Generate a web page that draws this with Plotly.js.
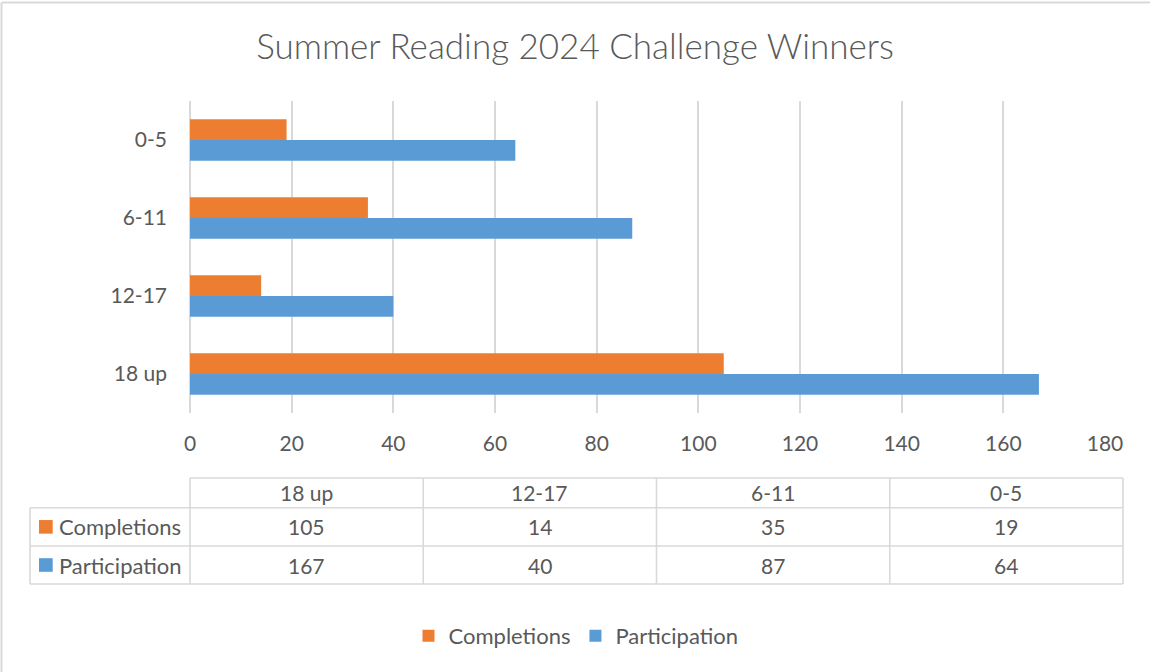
<!DOCTYPE html>
<html>
<head>
<meta charset="utf-8">
<script src="https://cdn.plot.ly/plotly-3.0.1.min.js"></script>
<style>
  html, body { margin: 0; padding: 0; background: #ffffff; }
  #chart { width: 1150px; height: 672px; }
</style>
</head>
<body>
<div id="chart"></div>
<script>
// ---- data ----
const categories = ['18 up', '12-17', '6-11', '0-5'];
const completions = [105, 14, 35, 19];
const participation = [167, 40, 87, 64];
const seriesNames = ['Completions', 'Participation'];
const chartTitle = 'Summer Reading 2024 Challenge Winners';

// ---- styling ----
const W = 1150, H = 672;
const M = { l: 190, r: 45, t: 101, b: 259 };
const PW = W - M.l - M.r, PH = H - M.t - M.b;
const ORANGE = '#ED7D31', BLUE = '#5B9BD5', TXT = '#595959', GRID = '#D9D9D9';
const FONT = 'Lato, "Open Sans", sans-serif';
const FS = 21;
const FS_NAME = 22;

const px = x => (x - M.l) / PW;
const py = y => (H - M.b - y) / PH;

const shapes = [];
const annotations = [];
function line(x0, y0, x1, y1, w) {
  shapes.push({ type: 'line', xref: 'paper', yref: 'paper',
    x0: px(x0), y0: py(y0), x1: px(x1), y1: py(y1),
    line: { color: GRID, width: w || 1.6 } });
}

// outer frame (top and left edges visible)
line(1.5, 2.5, W + 5, 2.5, 2);
line(1.5, 2.5, 1.5, H + 5, 2);

// data table geometry
const tLeft = 30, tData = 190, tRight = 1123;
const rows = [478, 507.7, 546, 584];
const nCols = categories.length;
const colW = (tRight - tData) / nCols;
line(tData, rows[0], tRight, rows[0]);
for (let r = 1; r < rows.length; r++) line(tLeft, rows[r], tRight, rows[r]);
line(tLeft, rows[1], tLeft, rows[3]);
for (let c = 0; c <= nCols; c++) line(tData + c * colW, rows[0], tData + c * colW, rows[3]);

function text(x, y, t, anchor, size) {
  annotations.push({ xref: 'paper', yref: 'paper', x: px(x), y: py(y),
    text: t, showarrow: false, xanchor: anchor || 'center', yanchor: 'middle',
    font: { family: FONT, size: size || FS, color: TXT } });
}
const rowMid = r => (rows[r] + rows[r + 1]) / 2;
categories.forEach((c, i) => text(tData + (i + 0.5) * colW, rowMid(0), c));
const tableSeries = [completions, participation];
const tableColors = [ORANGE, BLUE];
tableSeries.forEach((vals, s) => {
  const ym = rowMid(s + 1);
  shapes.push({ type: 'rect', xref: 'paper', yref: 'paper',
    x0: px(39), x1: px(52.7), y0: py(ym - 6.8), y1: py(ym + 6.8),
    fillcolor: tableColors[s], line: { width: 0 } });
  text(57, ym, seriesNames[s], 'left', FS_NAME);
  vals.forEach((v, i) => text(tData + (i + 0.5) * colW, ym, String(v)));
});

const traces = [
  { type: 'bar', orientation: 'h', name: seriesNames[1], y: categories, x: participation,
    marker: { color: BLUE }, hoverinfo: 'x+y+name' },
  { type: 'bar', orientation: 'h', name: seriesNames[0], y: categories, x: completions,
    marker: { color: ORANGE }, hoverinfo: 'x+y+name' }
];

const layout = {
  width: W, height: H,
  margin: M,
  paper_bgcolor: '#ffffff', plot_bgcolor: '#ffffff',
  font: { family: FONT, size: FS, color: TXT },
  title: { text: chartTitle, x: 0.5, xref: 'container', xanchor: 'center',
    y: 1 - 47 / H, yref: 'container', yanchor: 'middle',
    font: { family: FONT, size: 35, color: TXT, weight: 300 } },
  barmode: 'group', bargap: 0.47, bargroupgap: 0,
  xaxis: { range: [0, 180], dtick: 20, tick0: 0, showgrid: true, gridcolor: GRID, gridwidth: 2,
    zeroline: true, zerolinecolor: GRID, zerolinewidth: 2, showline: false, ticks: '',
    ticklabelstandoff: 16, tickfont: { family: FONT, size: FS, color: TXT }, fixedrange: true },
  yaxis: { type: 'category', showgrid: false, zeroline: false, showline: false, ticks: '',
    ticklabelstandoff: 22, tickfont: { family: FONT, size: FS, color: TXT }, fixedrange: true },
  showlegend: true,
  legend: { orientation: 'h', x: px(576), xanchor: 'center', y: py(636), yanchor: 'middle',
    traceorder: 'reversed', font: { family: FONT, size: FS_NAME, color: TXT }, itemwidth: 30 },
  shapes: shapes,
  annotations: annotations
};

Plotly.newPlot('chart', traces, layout, { displayModeBar: false, staticPlot: true });
</script>
</body>
</html>
